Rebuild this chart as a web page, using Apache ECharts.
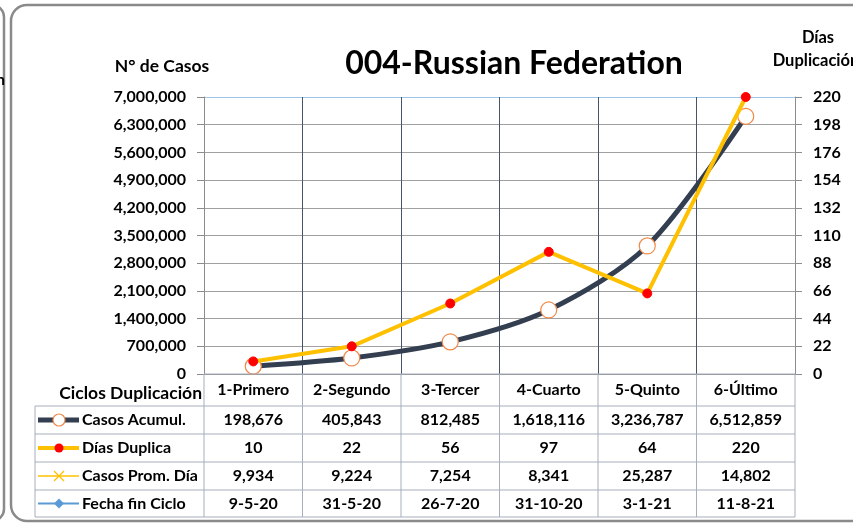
<!DOCTYPE html>
<html>
<head>
<meta charset="utf-8">
<script src="https://cdn.jsdelivr.net/npm/echarts@6/dist/echarts.min.js"></script>
<style>
html,body{margin:0;padding:0;background:#fff;}
#main{width:853px;height:526px;}
</style>
</head>
<body>
<div id="main"></div>
<script>
var categories = ['1-Primero', '2-Segundo', '3-Tercer', '4-Cuarto', '5-Quinto', '6-Último'];
var casosAcumul = [198676, 405843, 812485, 1618116, 3236787, 6512859];
var diasDuplica = [10, 22, 56, 97, 64, 220];
var casosPromDia = [9934, 9224, 7254, 8341, 25287, 14802];
var fechaFin = ['9-5-20', '31-5-20', '26-7-20', '31-10-20', '3-1-21', '11-8-21'];
var rowNames = ['Casos Acumul.', 'Días Duplica', 'Casos Prom. Día', 'Fecha fin Ciclo'];
var leftMax = 7000000, leftStep = 700000;
var rightMax = 220, rightStep = 22;

var FONT = 'Lato';
var chartDom = document.getElementById('main');
var myChart = echarts.init(chartDom, null, {renderer: 'canvas'});

function fmt(v) { return v.toLocaleString('en-US'); }

var hColors = [];
for (var i = 0; i < 10; i++) hColors.push('#a0a0a0');
hColors.push('#9dc3e6');
var vColors = ['#8c8c8c', '#44546a', '#44546a', '#44546a', '#44546a', '#44546a', '#8c8c8c'];

var option = {
    animation: false,
    title: {
        text: '004-Russian Federation',
        left: 509, top: 43, textAlign: 'center',
        textStyle: {fontFamily: FONT, fontSize: 32, fontWeight: 'bold', color: '#000'}
    },
    grid: {left: 204, right: 58, top: 97, bottom: 152, containLabel: false},
    xAxis: {
        type: 'category',
        data: categories,
        boundaryGap: true,
        axisLine: {show: true, lineStyle: {color: '#8c8c8c', width: 1}},
        axisTick: {show: false},
        axisLabel: {show: false},
        splitLine: {show: true, interval: 0, lineStyle: {color: vColors, width: 1}}
    },
    yAxis: [{
        type: 'value', min: 0, max: leftMax, interval: leftStep,
        name: 'N° de Casos', nameLocation: 'end', nameGap: 22,
        nameTextStyle: {fontFamily: FONT, fontSize: 17.5, fontWeight: 'bold', color: '#000', align: 'center', padding: [0, 0, 0, -84]},
        axisLine: {show: true, lineStyle: {color: '#8c8c8c'}},
        axisTick: {show: true, inside: false, length: 7, lineStyle: {color: '#8c8c8c'}},
        axisLabel: {formatter: fmt, fontFamily: FONT, fontSize: 16, fontWeight: 'bold', color: '#000', margin: 18},
        splitLine: {show: true, lineStyle: {color: hColors, width: 1}}
    }, {
        type: 'value', min: 0, max: rightMax, interval: rightStep, position: 'right',
        axisLine: {show: true, lineStyle: {color: '#8c8c8c'}},
        axisTick: {show: true, inside: false, length: 7, lineStyle: {color: '#8c8c8c'}},
        axisLabel: {fontFamily: FONT, fontSize: 16, fontWeight: 'bold', color: '#000', margin: 18},
        splitLine: {show: false}
    }],
    series: [{
        name: 'Casos Acumul.',
        type: 'line',
        data: casosAcumul,
        smooth: 0.3,
        symbol: 'circle',
        symbolSize: 16,
        lineStyle: {color: '#333f50', width: 5},
        itemStyle: {color: '#ffffff', borderColor: '#f08a4b', borderWidth: 1.2},
        z: 3
    }, {
        name: 'Días Duplica',
        type: 'line',
        yAxisIndex: 1,
        data: diasDuplica,
        symbol: 'circle',
        symbolSize: 9,
        lineStyle: {color: '#ffc000', width: 4},
        itemStyle: {color: '#ff0000', borderColor: '#ff0000'},
        z: 4
    }]
};

myChart.setOption(option);

// data table under the plot, positioned from the category axis
var colX = categories.map(function(c, i) { return myChart.convertToPixel({xAxisIndex: 0}, i); });
var step = colX[1] - colX[0];
var leftEdge = colX[0] - step / 2, rightEdge = colX[5] + step / 2;
var yTop = myChart.convertToPixel({yAxisIndex: 0}, 0);
var rowY = [yTop, 406, 434, 462, 490, 517];
var tblLeft = 35;
var lineCol = '#a6aebb';
var g = [];
var ts = {fontFamily: FONT, fontSize: 16, fontWeight: 'bold', fill: '#000'};

function txt(x, y, s, align, size) {
    var st = Object.assign({text: s, align: align || 'center', verticalAlign: 'middle'}, ts);
    if (size) st.fontSize = size;
    g.push({type: 'text', x: x, y: y, style: st, z: 10});
}
function ln(x1, y1, x2, y2, c, w) {
    g.push({type: 'line', shape: {x1: x1, y1: y1, x2: x2, y2: y2}, style: {stroke: c || lineCol, lineWidth: w || 1}, z: 9});
}

// header row
txt(leftEdge - 2, (rowY[0] + rowY[1]) / 2 + 3, 'Ciclos Duplicación', 'right', 17.5);
categories.forEach(function(c, i) { txt(colX[i], (rowY[0] + rowY[1]) / 2, c); });
// horizontal lines
ln(leftEdge, rowY[0], rightEdge, rowY[0]);
for (var r = 1; r < rowY.length; r++) ln(tblLeft, rowY[r], rightEdge, rowY[r]);
// vertical lines
ln(tblLeft, rowY[1], tblLeft, rowY[5]);
for (var k = 0; k <= 6; k++) ln(leftEdge + k * step, rowY[0], leftEdge + k * step, rowY[5]);

var rows = [casosAcumul.map(fmt), diasDuplica.map(String), casosPromDia.map(fmt), fechaFin];
rows.forEach(function(vals, r) {
    var cy = (rowY[r + 1] + rowY[r + 2]) / 2;
    vals.forEach(function(v, i) { txt(colX[i], cy, v); });
    txt(82, cy, rowNames[r], 'left');
});

// legend keys in row headers
var k1 = (rowY[1] + rowY[2]) / 2, k2 = (rowY[2] + rowY[3]) / 2, k3 = (rowY[3] + rowY[4]) / 2, k4 = (rowY[4] + rowY[5]) / 2;
ln(38, k1, 79, k1, '#333f50', 5);
g.push({type: 'circle', shape: {cx: 59, cy: k1, r: 6}, style: {fill: '#fff', stroke: '#f08a4b', lineWidth: 1.2}, z: 11});
ln(38, k2, 79, k2, '#ffc000', 4);
g.push({type: 'circle', shape: {cx: 59, cy: k2, r: 4.5}, style: {fill: '#ff0000'}, z: 11});
ln(38, k3, 79, k3, '#ffc000', 1.5);
ln(54, k3 - 5, 64, k3 + 5, '#ffc000', 1.2);
ln(54, k3 + 5, 64, k3 - 5, '#ffc000', 1.2);
ln(38, k4, 79, k4, '#5b9bd5', 2);
g.push({type: 'polygon', shape: {points: [[59, k4 - 5], [64, k4], [59, k4 + 5], [54, k4]]}, style: {fill: '#5b9bd5'}, z: 11});

// right axis name
txt(818, 38, 'Días', 'center', 16.5);
txt(816, 61, 'Duplicación', 'center', 16.5);

// chart frames
g.push({type: 'rect', shape: {x: 11, y: 5, width: 860, height: 516, r: 16}, style: {fill: 'none', stroke: '#8a8a8a', lineWidth: 2.5}, z: 1});
g.push({type: 'rect', shape: {x: -40, y: 5, width: 44, height: 516, r: 12}, style: {fill: 'none', stroke: '#8a8a8a', lineWidth: 2.5}, z: 1});
g.push({type: 'text', x: -4, y: 80, style: Object.assign({text: 'n', align: 'left', verticalAlign: 'middle'}, ts), z: 10});

myChart.setOption({graphic: g});
</script>
</body>
</html>
